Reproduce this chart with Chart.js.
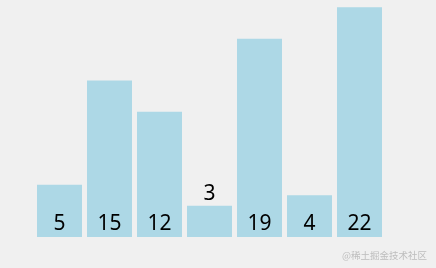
<!DOCTYPE html>
<html>
<head>
<meta charset="utf-8">
<script src="https://cdn.jsdelivr.net/npm/chart.js@4/dist/chart.umd.min.js"></script>
<style>
html,body{margin:0;padding:0;background:#f0f0f0;}
#wrap{position:relative;width:436px;height:268px;}
canvas{display:block;}
</style>
</head>
<body>
<div id="wrap"><canvas id="c" width="436" height="268"></canvas></div>
<script>
const categories = ["a", "b", "c", "d", "e", "f", "g"];
const values = [5, 15, 12, 3, 19, 4, 22];
const watermark = "@稀土掘金技术社区";

const labelPlugin = {
  id: "labels",
  afterDatasetsDraw(chart) {
    const ctx = chart.ctx;
    const meta = chart.getDatasetMeta(0);
    ctx.save();
    ctx.font = '21px "Noto Sans", "DejaVu Sans", sans-serif';
    ctx.fillStyle = "#000";
    ctx.textAlign = "center";
    ctx.textBaseline = "alphabetic";
    meta.data.forEach((bar, i) => {
      const v = values[i];
      const h = bar.base - bar.y;
      let y;
      if (h > 35) {
        y = bar.base - 7;
      } else {
        y = bar.y - 6;
      }
      ctx.fillText(String(v), bar.x, y);
    });
    ctx.font = '9.5px "Noto Sans CJK SC", sans-serif';
    ctx.fillStyle = "#bdbdbd";
    ctx.textAlign = "right";
    ctx.fillText(watermark, 427, 259);
    ctx.restore();
  }
};

new Chart(document.getElementById("c"), {
  type: "bar",
  data: {
    labels: categories,
    datasets: [{
      data: values,
      backgroundColor: "#add8e6",
      borderWidth: 0,
      categoryPercentage: 0.9,
      barPercentage: 1.0
    }]
  },
  options: {
    responsive: false,
    animation: false,
    layout: { padding: { left: 34.5, right: 51.5, top: 0, bottom: 31 } },
    plugins: { legend: { display: false }, tooltip: { enabled: false } },
    scales: {
      x: { display: false, offset: true },
      y: { display: false, min: 0, max: 22.7 }
    }
  },
  plugins: [labelPlugin]
});
</script>
</body>
</html>
